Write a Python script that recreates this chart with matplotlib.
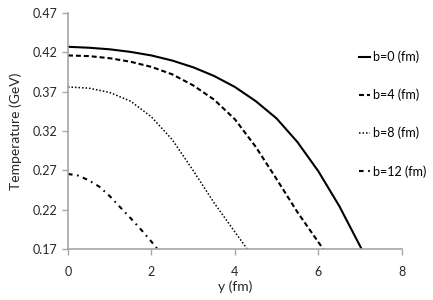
import matplotlib
matplotlib.use("Agg")
import matplotlib.pyplot as plt

plt.rcParams['font.family'] = ['Lato', 'DejaVu Sans']

# values
y_b0 = [0, 0.5, 1.0, 1.5, 2.0, 2.5, 3.0, 3.5, 4.0, 4.5, 5.0, 5.5, 6.0, 6.5, 7.04]
T_b0 = [0.427, 0.4258, 0.4238, 0.4205, 0.416, 0.4095, 0.401, 0.390, 0.376, 0.358,
        0.336, 0.306, 0.269, 0.225, 0.17]

y_b4 = [0, 0.5, 1.0, 1.5, 2.0, 2.5, 3.0, 3.5, 4.0, 4.5, 5.0, 5.5, 6.12]
T_b4 = [0.416, 0.4152, 0.4125, 0.408, 0.4015, 0.392, 0.378, 0.360, 0.335, 0.300,
        0.259, 0.217, 0.17]

y_b8 = [0, 0.5, 1.0, 1.5, 2.0, 2.5, 3.0, 3.5, 4.0, 4.3]
T_b8 = [0.376, 0.3745, 0.369, 0.358, 0.338, 0.309, 0.270, 0.229, 0.192, 0.17]

y_b12 = [0, 0.25, 0.5, 0.75, 1.0, 1.25, 1.5, 1.75, 2.0, 2.15]
T_b12 = [0.2656, 0.2635, 0.2575, 0.2495, 0.2375, 0.2235, 0.2095, 0.195, 0.1797, 0.17]

labels = ["b=0 (fm)", "b=4 (fm)", "b=8 (fm)", "b=12 (fm)"]
xticks = [0, 2, 4, 6, 8]
yticks = [0.17, 0.22, 0.27, 0.32, 0.37, 0.42, 0.47]

fig = plt.figure(figsize=(4.33, 3.0), dpi=100)
ax = fig.add_axes([0.157, 0.169, 0.771, 0.788])

ax.plot(y_b0, T_b0, color='black', lw=1.5, label=labels[0])
ax.plot(y_b4, T_b4, color='black', lw=1.5, linestyle=(0, (2.4, 1.4)), label=labels[1])
ax.plot(y_b8, T_b8, color='black', lw=1.1, linestyle=(0, (1, 1.3)), label=labels[2])
ax.plot(y_b12, T_b12, color='black', lw=1.5, linestyle=(0, (2.2, 2.2, 0.8, 2.2)), label=labels[3])

ax.set_xlim(0, 8)
ax.set_ylim(0.17, 0.47)
ax.set_xticks(xticks)
ax.set_xticklabels([str(v) for v in xticks])
ax.set_yticks(yticks)
ax.set_yticklabels([f"{v:.2f}" for v in yticks])

for s in ['top', 'right']:
    ax.spines[s].set_visible(False)
for s in ['left', 'bottom']:
    ax.spines[s].set_color('#a6a6a6')
    ax.spines[s].set_linewidth(1.2)
ax.tick_params(colors='#a6a6a6', labelcolor='#262626', labelsize=9, length=4, width=1)
ax.tick_params(axis='x', pad=8)

ax.set_xlabel('y (fm)', fontsize=10, color='#262626', labelpad=2)
ax.set_ylabel('Temperature (GeV)', fontsize=10, color='#262626', labelpad=8)

ax.legend(loc='center left', bbox_to_anchor=(0.828, 0.62), bbox_transform=fig.transFigure,
          frameon=False, fontsize=9, handlelength=0.9, handletextpad=0.25,
          labelspacing=2.05, borderpad=0, borderaxespad=0)

fig.savefig('out.png', dpi=100)
